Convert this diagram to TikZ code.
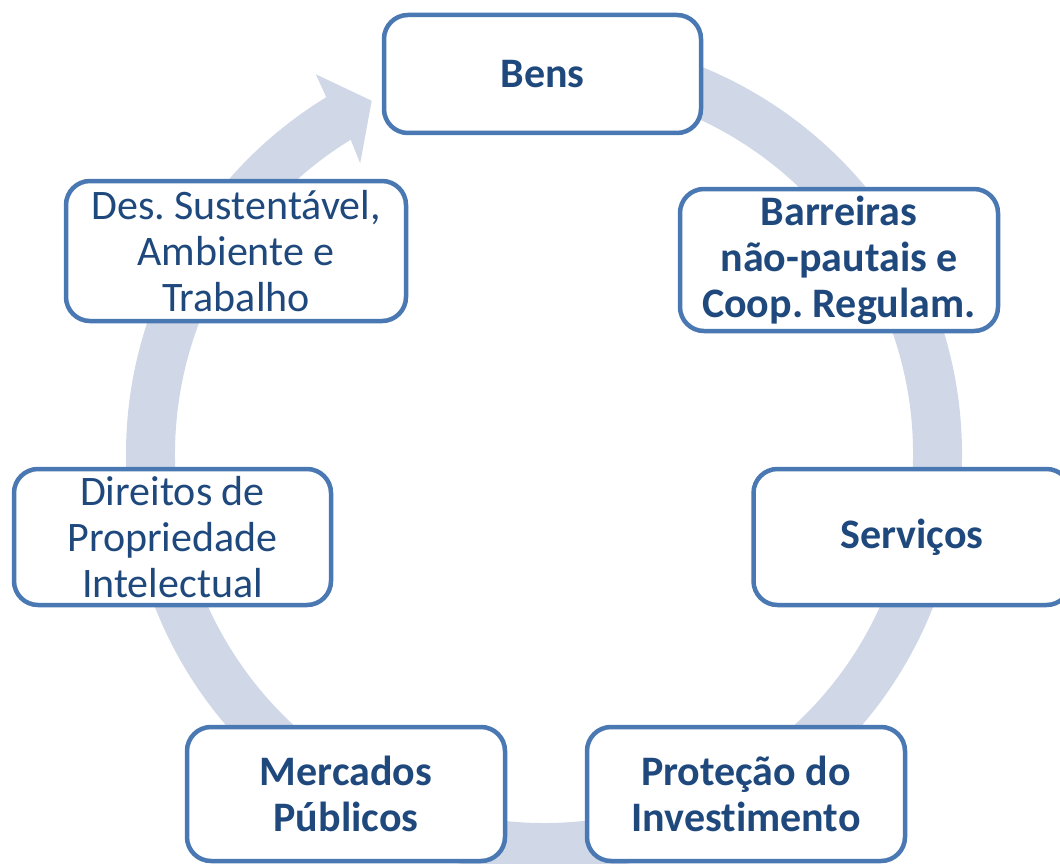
\documentclass[tikz,border=0pt]{standalone}
\usepackage{fontspec}
\setmainfont{Carlito}[Ligatures=NoCommon]
\frenchspacing
\definecolor{ringc}{HTML}{D0D8E8}
\definecolor{boxc}{HTML}{4A78B2}
\definecolor{txtc}{HTML}{1F497D}
\begin{document}
\begin{tikzpicture}[x=1pt,y=-1pt,
  box/.style={draw=boxc, line width=4.5pt, fill=white, rounded corners=24pt,
    inner sep=0pt, align=center, text=txtc,
    font=\fontsize{42}{46}\selectfont\frenchspacing},
  boxb/.style={box, font=\fontsize{42}{46}\selectfont\bfseries\frenchspacing}]
\useasboundingbox (0,0) rectangle (1060,864);
\clip (0,0) rectangle (1060,864);
% ring arrow
\begin{scope}[shift={(544,454)}]
\fill[ringc] (265:418) arc[start angle=265, end angle=598.6, radius=418]
  -- (599:443) -- (604:393) -- (597.7:344) -- (598.4:369)
  arc[start angle=598.4, end angle=265, radius=369] -- cycle;
\end{scope}
% boxes
\node[boxb, minimum width=317, minimum height=118] (bens) at (542.5,74) {Bens};
\node[boxb, minimum width=318, minimum height=142] (barr) at (839,260) {Barreiras\\não-pautais e\\Coop. Regulam.};
\node[boxb, minimum width=317, minimum height=136] (serv) at (912,537) {Serviços};
\node[boxb, minimum width=318, minimum height=134] (prot) at (746,794) {Proteção do\\Investimento};
\node[boxb, minimum width=318, minimum height=134] (merc) at (346,794) {Mercados\\Públicos};
\node[box, minimum width=317, minimum height=136] (dir) at (172.5,537) {Direitos de\\Propriedade\\Intelectual};
\node[box, minimum width=340, minimum height=140] (des) at (236,251) {Des. Sustentável,\\Ambiente e\\Trabalho};
\end{tikzpicture}
\end{document}
